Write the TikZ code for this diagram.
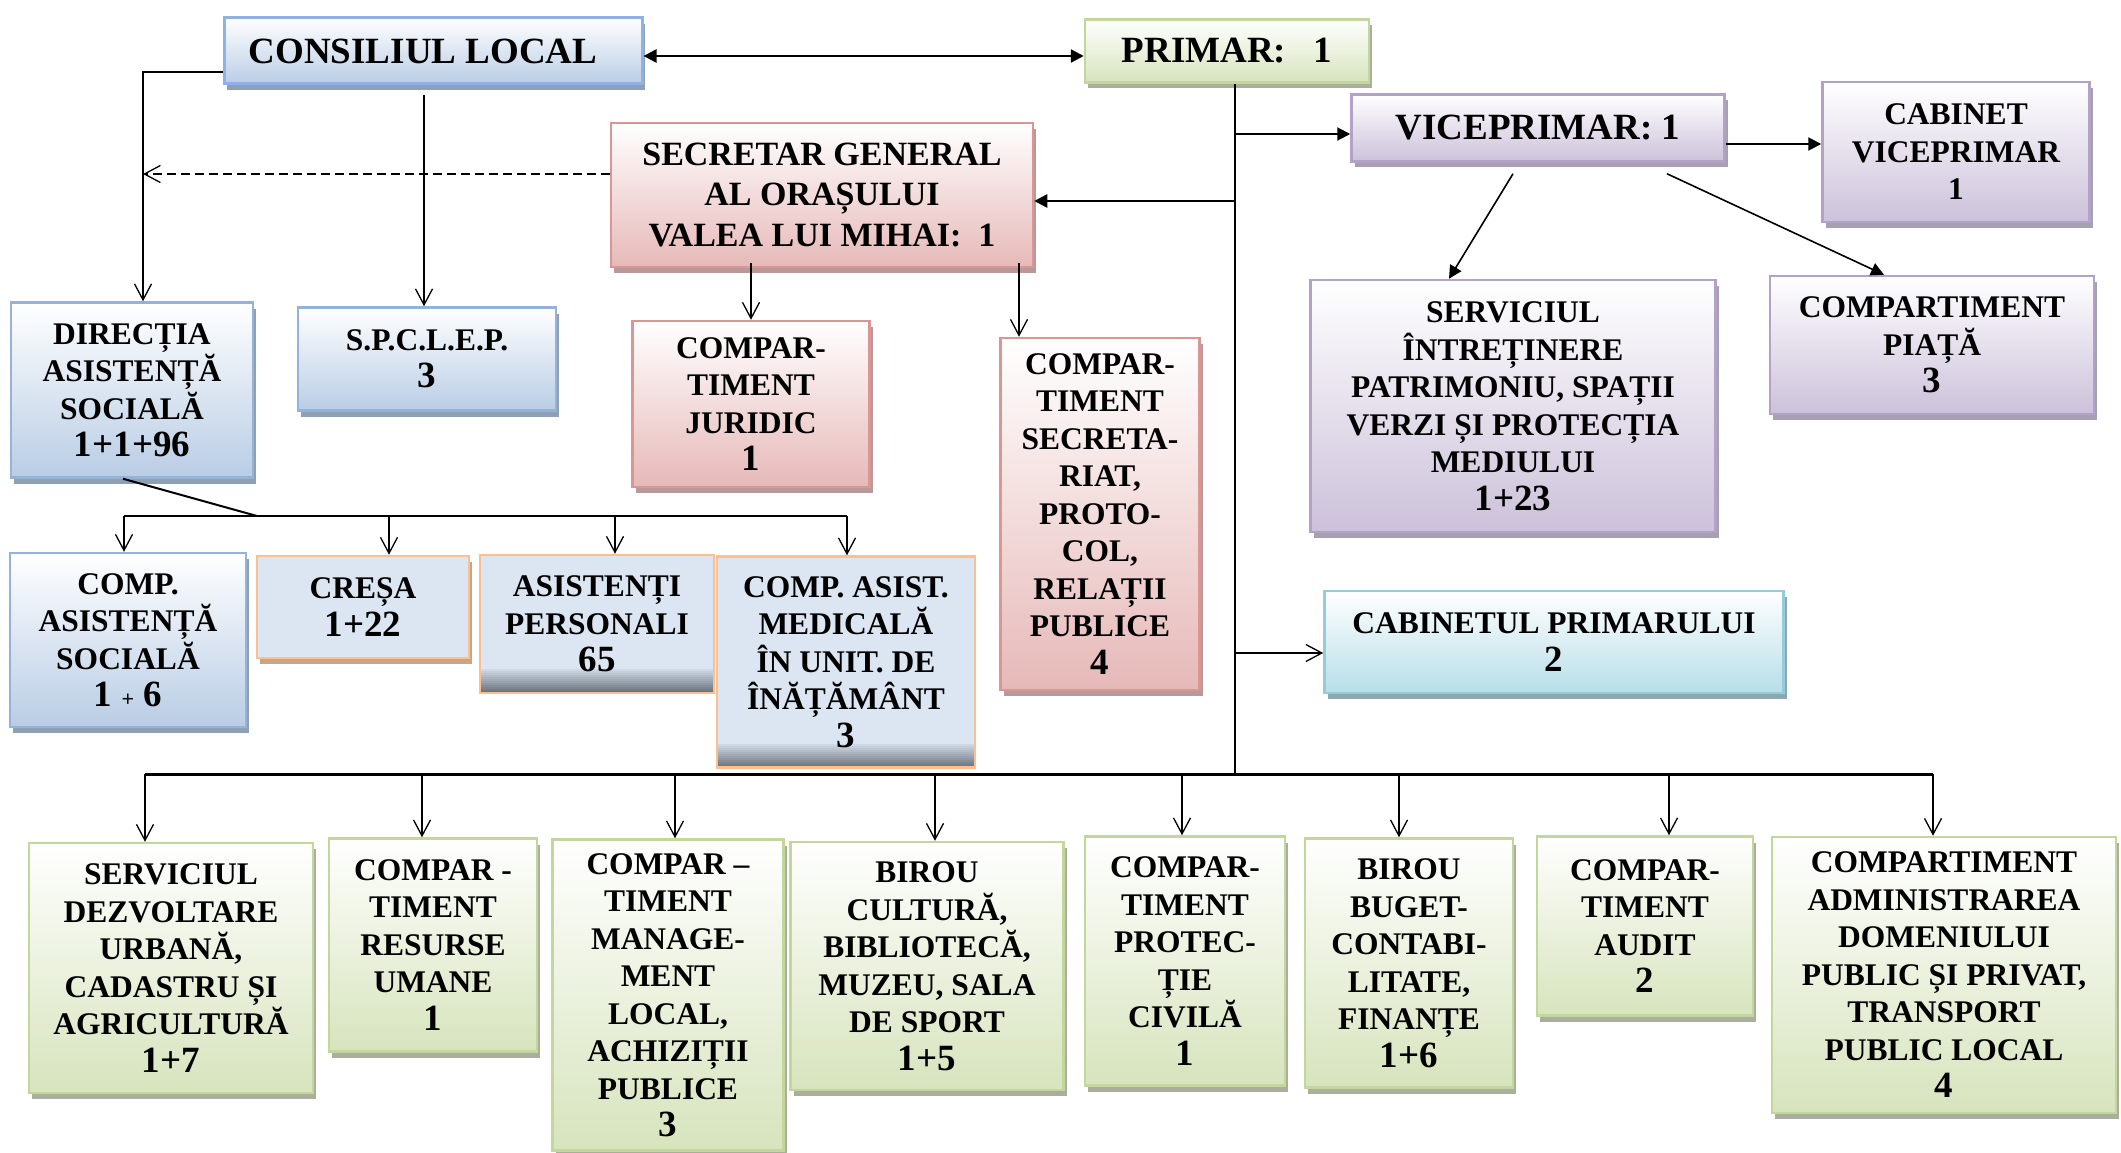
\documentclass[tikz,border=0pt]{standalone}
\usepackage{fontspec}
\setmainfont{Liberation Serif}
\usetikzlibrary{arrows.meta,shadows,backgrounds}
\definecolor{blueB}{HTML}{95B3D7}
\definecolor{blueF}{HTML}{B9CDE5}
\definecolor{blueS}{HTML}{8F9FB4}
\definecolor{consB}{HTML}{8DB3E2}
\definecolor{glowC}{HTML}{9DBBE6}
\definecolor{greenB}{HTML}{C3D69B}
\definecolor{greenF}{HTML}{D7E4BD}
\definecolor{greenS}{HTML}{A8AF9C}
\definecolor{purpB}{HTML}{B3A2C7}
\definecolor{purpF}{HTML}{CCC1DA}
\definecolor{purpS}{HTML}{A7A0B0}
\definecolor{redB}{HTML}{D99694}
\definecolor{redF}{HTML}{E6B9B8}
\definecolor{redS}{HTML}{B8999A}
\definecolor{cyanB}{HTML}{93CDDD}
\definecolor{cyanF}{HTML}{B7DEE8}
\definecolor{cyanS}{HTML}{8FA8AE}
\definecolor{orangeB}{HTML}{FAC090}
\definecolor{lblueF}{HTML}{DCE6F2}
\definecolor{cresaS}{HTML}{C9A586}
\definecolor{grayband}{HTML}{6B737D}
\newcommand\nbr[1]{{\fontsize{37}{37.5}\selectfont #1}}
\tikzset{
 bx/.style={draw, line width=2.5pt, align=center, inner sep=0pt,
   font=\bfseries\fontsize{31.5}{37.5}\selectfont},
 bigfont/.style={font=\bfseries\fontsize{37}{44}\selectfont},
 shad/.style={drop shadow={shadow xshift=3pt, shadow yshift=-6pt, fill=#1, opacity=1}},
 bluebx/.style={bx, draw=blueB, top color=white, bottom color=blueF, shad=blueS},
 greenbx/.style={bx, draw=greenB, top color=white, bottom color=greenF, shad=greenS},
 purpbx/.style={bx, draw=purpB, top color=white, bottom color=purpF, shad=purpS},
 redbx/.style={bx, draw=redB, top color=white, bottom color=redF, shad=redS},
 cyanbx/.style={bx, draw=cyanB, top color=white, bottom color=cyanF, shad=cyanS},
 orbx/.style={bx, draw=orangeB, fill=lblueF},
 orgray/.style={orbx, path picture={
   \foreach \i in {0,...,11}{
     \pgfmathtruncatemacro\pc{12+\i*8}
     \fill[grayband!\pc!lblueF] ([yshift=24pt-\i*2pt]path picture bounding box.south west) rectangle ([yshift=21.5pt-\i*2pt]path picture bounding box.south east);
   }}},
 opn/.style={-{Straight Barb[length=16pt, width=17pt, line width=1.3pt]}, line width=1.5pt},
 fil/.style={-{Triangle[length=13pt, width=13pt]}, line width=2pt},
}
\begin{document}
\begin{tikzpicture}[x=1pt, y=-1pt]
\fill[white] (0,0) rectangle (2121,1153);
\useasboundingbox (0,0) rectangle (2121,1153);

% top level
\node[bluebx, bigfont, draw=consB, line width=3pt, minimum width=418pt, minimum height=66pt] (cons) at (433,51) {\hspace*{-20pt}CONSILIUL LOCAL};
\begin{scope}[on background layer]
\foreach \k in {1,...,6}
  \fill[glowC, opacity=0.10] ([shift={(-\k*1.8pt, \k*1.5pt)}]cons.north west) rectangle ([shift={(\k*1.8pt, -\k*1.8pt-3pt)}]cons.south east);
\end{scope}
\node[greenbx, bigfont, minimum width=284pt, minimum height=63pt] (prim) at (1227,51) {\raisebox{-4pt}{PRIMAR:\ \ \ 1}};
\node[purpbx, bigfont, minimum width=373pt, minimum height=67pt] (vice) at (1538,128) {VICEPRIMAR: 1};
\node[purpbx, minimum width=267pt, minimum height=140pt] (cabv) at (1956,152) {CABINET\\VICEPRIMAR\\1};
\node[redbx, font=\bfseries\fontsize{34}{40.5}\selectfont, minimum width=422pt, minimum height=144pt] (sec) at (822,195) {SECRETAR GENERAL\\AL ORAȘULUI\\VALEA LUI MIHAI:\ \ 1};

% second level
\node[bluebx, minimum width=242pt, minimum height=175pt] (dir) at (132,390) {DIRECȚIA\\ASISTENȚĂ\\SOCIALĂ\\\nbr{1+1+96}};
\node[bluebx, minimum width=258pt, minimum height=103pt] (spc) at (427,359) {S.P.C.L.E.P.\\\nbr{3}};
\node[redbx, minimum width=237pt, minimum height=166pt] (jur) at (751,404) {COMPAR-\\TIMENT\\JURIDIC\\\nbr{1}};
\node[redbx, minimum width=199pt, minimum height=352pt] (secr) at (1100,514) {COMPAR-\\TIMENT\\SECRETA-\\RIAT,\\PROTO-\\COL,\\RELAȚII\\PUBLICE\\\nbr{4}};
\node[purpbx, minimum width=405pt, minimum height=252pt] (serv) at (1513,406) {SERVICIUL\\ÎNTREȚINERE\\PATRIMONIU, SPAȚII\\VERZI ȘI PROTECȚIA\\MEDIULUI\\\nbr{1+23}};
\node[purpbx, minimum width=324pt, minimum height=138pt] (piata) at (1932,345) {COMPARTIMENT\\PIAȚĂ\\\nbr{3}};
\node[cyanbx, minimum width=459pt, minimum height=102pt] (cabp) at (1554,642) {CABINETUL PRIMARULUI\\\nbr{2}};

% DAS children
\node[bluebx, minimum width=236pt, minimum height=174pt] (cas) at (128,640) {COMP.\\ASISTENȚĂ\\SOCIALĂ\\\nbr{1 {\fontsize{22}{22}\selectfont +} 6}};
\node[orbx, shad=cresaS, minimum width=212pt, minimum height=102pt] (cresa) at (363,607) {CREȘA\\\nbr{1+22}};
\node[orgray, minimum width=234pt, minimum height=138pt] (asp) at (597,624) {ASISTENȚI\\PERSONALI\\\nbr{65}};
\node[orgray, minimum width=258pt, minimum height=211pt] (cam) at (846,662) {COMP. ASIST.\\MEDICALĂ\\ÎN UNIT. DE\\ÎNĂȚĂMÂNT\\\nbr{3}};

% bottom row
\node[greenbx, minimum width=284pt, minimum height=250pt] (sd) at (171,968) {SERVICIUL\\DEZVOLTARE\\URBANĂ,\\CADASTRU ȘI\\AGRICULTURĂ\\\nbr{1+7}};
\node[greenbx, minimum width=208pt, minimum height=213pt] (ru) at (433,945) {COMPAR -\\TIMENT\\RESURSE\\UMANE\\\nbr{1}};
\node[greenbx, minimum width=231pt, minimum height=311pt] (ml) at (668,995) {COMPAR –\\TIMENT\\MANAGE-\\MENT\\LOCAL,\\ACHIZIȚII\\PUBLICE\\\nbr{3}};
\node[greenbx, minimum width=273pt, minimum height=248pt] (bc) at (927,966) {BIROU\\CULTURĂ,\\BIBLIOTECĂ,\\MUZEU, SALA\\DE SPORT\\\nbr{1+5}};
\node[greenbx, minimum width=200pt, minimum height=249pt] (pc) at (1185,961) {COMPAR-\\TIMENT\\PROTEC-\\ȚIE\\CIVILĂ\\\nbr{1}};
\node[greenbx, minimum width=208pt, minimum height=249pt] (bb) at (1409,963) {BIROU\\BUGET-\\CONTABI-\\LITATE,\\FINANȚE\\\nbr{1+6}};
\node[greenbx, minimum width=216pt, minimum height=179pt] (au) at (1645,926) {COMPAR-\\TIMENT\\AUDIT\\\nbr{2}};
\node[greenbx, minimum width=344pt, minimum height=276pt] (ad) at (1944,975) {COMPARTIMENT\\ADMINISTRAREA\\DOMENIULUI\\PUBLIC ȘI PRIVAT,\\TRANSPORT\\PUBLIC LOCAL\\\nbr{4}};

% connectors: top
\draw[line width=2.5pt, {Triangle[length=13pt,width=13pt]}-{Triangle[length=13pt,width=13pt]}] ([yshift=-5pt]cons.east) -- ([yshift=-5pt]prim.west);
\coordinate (cl) at ([yshift=-21pt]cons.west);
\coordinate (dtop) at ([xshift=11pt]dir.north);
\draw[opn] (cl) -| (dtop);
\coordinate (sp0) at ([xshift=-3pt]spc.north);
\coordinate (cs) at ([yshift=-10pt]cons.south);
\draw[opn] (cs -| sp0) -- (sp0);
\coordinate (sw) at ([yshift=21pt]sec.west);
\coordinate (dashend) at (143,174);
\draw[opn, dash pattern=on 9pt off 5pt] (sw) -- (dashend);

% primar spine
\coordinate (pv) at ([xshift=8pt]prim.south);
\coordinate (pb) at (1235,774);
\draw[line width=1.6pt] (pv) -- (pb);
\coordinate (vw) at ([yshift=-6pt]vice.west);
\draw[fil] (vw -| pv) -- (vw);
\coordinate (se) at ([yshift=-6pt]sec.east);
\draw[fil, line width=2.5pt] (se -| pv) -- (se);
\coordinate (cw) at ([yshift=-11pt]cabp.west);
\draw[opn] (cw -| pv) -- (cw);

% viceprimar
\coordinate (ve) at ([yshift=-16pt]vice.east);
\draw[fil] (ve) -- (ve -| cabv.west);
\coordinate (v1) at ([shift={(-25pt,-11pt)}]vice.south);
\coordinate (sv1) at ([xshift=-64pt]serv.north);
\draw[fil, line width=1.6pt] (v1) -- (sv1);
\coordinate (v2) at ([shift={(129pt,-11pt)}]vice.south);
\coordinate (pi1) at ([xshift=-48pt]piata.north);
\draw[fil, line width=1.6pt] (v2) -- (pi1);

% secretar
\coordinate (ss) at ([yshift=5pt]sec.south);
\draw[opn] (ss -| jur.north) -- (jur.north);
\coordinate (s2) at ([xshift=-81pt]secr.north);
\draw[opn] (ss -| s2) -- (s2);

% directia bus
\coordinate (d0) at (257,516);
\coordinate (d1) at (124,516);
\coordinate (d2) at (389,516);
\coordinate (d3) at (615,516);
\coordinate (d4) at (847,516);
\draw[line width=2pt] ([xshift=-9pt]dir.south) -- (d0);
\draw[line width=2.8pt] (d1) -- (d4);
\draw[opn] (d1) -- (d1 |- cas.north);
\draw[opn] (d2) -- (d2 |- cresa.north);
\draw[opn] (d3) -- (d3 |- asp.north);
\draw[opn] (d4) -- (d4 |- cam.north);

% bottom bus
\coordinate (b1) at (145,774);
\coordinate (b2) at (422,774);
\coordinate (b3) at (675,774);
\coordinate (b4) at (935,774);
\coordinate (b5) at (1182,774);
\coordinate (b6) at (1399,774);
\coordinate (b7) at (1669,774);
\coordinate (b8) at (1933,774);
\draw[line width=3pt] (b1) -- (b8);
\draw[opn] (b1) -- (b1 |- sd.north);
\draw[opn] (b2) -- (b2 |- ru.north);
\draw[opn] (b3) -- (b3 |- ml.north);
\draw[opn] (b4) -- (b4 |- bc.north);
\draw[opn] (b5) -- (b5 |- pc.north);
\draw[opn] (b6) -- (b6 |- bb.north);
\draw[opn] (b7) -- (b7 |- au.north);
\draw[opn] (b8) -- (b8 |- ad.north);
\end{tikzpicture}
\end{document}
